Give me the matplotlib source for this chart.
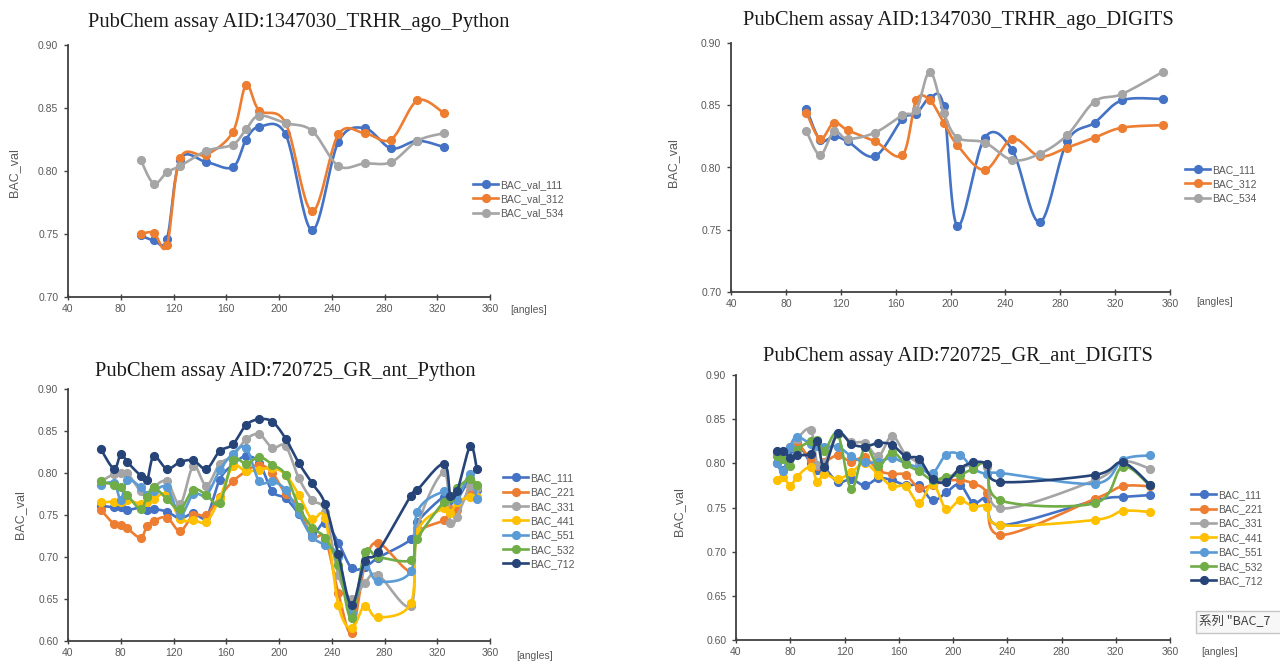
import numpy as np
import matplotlib
matplotlib.use("Agg")
import matplotlib.pyplot as plt
from matplotlib.lines import Line2D
from matplotlib.patches import Rectangle

plt.rcParams['font.family'] = ['Liberation Sans', 'Noto Sans CJK JP', 'DejaVu Sans']

# ---- data ----
# AID:1347030_TRHR_ago_Python
trhr_py_angles = [95, 105, 115, 125, 145, 165, 175, 185, 205, 225, 245, 265, 285, 305, 325]
trhr_py_111 = [0.749, 0.745, 0.746, 0.809, 0.807, 0.803, 0.825, 0.835, 0.829, 0.753, 0.823, 0.834, 0.818, 0.824, 0.819]
trhr_py_312 = [0.750, 0.751, 0.741, 0.810, 0.813, 0.831, 0.868, 0.848, 0.838, 0.768, 0.829, 0.830, 0.825, 0.856, 0.846]
trhr_py_534 = [0.809, 0.790, 0.799, 0.804, 0.816, 0.821, 0.833, 0.844, 0.838, 0.832, 0.804, 0.806, 0.807, 0.824, 0.830]
trhr_py_labels = ['BAC_val_111', 'BAC_val_312', 'BAC_val_534']

# AID:1347030_TRHR_ago_DIGITS
trhr_dg_angles = [95, 105, 115, 125, 145, 165, 175, 185, 195, 205, 225, 245, 265, 285, 305, 325, 355]
trhr_dg_111 = [0.847, 0.822, 0.825, 0.821, 0.809, 0.839, 0.843, 0.856, 0.849, 0.753, 0.824, 0.814, 0.756, 0.821, 0.836, 0.854, 0.855]
trhr_dg_312 = [0.844, 0.823, 0.836, 0.830, 0.821, 0.810, 0.854, 0.854, 0.836, 0.818, 0.798, 0.823, 0.809, 0.816, 0.824, 0.832, 0.834]
trhr_dg_534 = [0.829, 0.810, 0.829, 0.823, 0.828, 0.842, 0.846, 0.877, 0.844, 0.824, 0.820, 0.806, 0.811, 0.826, 0.853, 0.859, 0.877]
trhr_dg_labels = ['BAC_111', 'BAC_312', 'BAC_534']

# AID:720725_GR_ant_Python
gr_py_angles = [65, 75, 80, 85, 95, 100, 105, 115, 125, 135, 145, 155, 165, 175, 185, 195,
                205, 215, 225, 235, 245, 255, 265, 275, 300, 305, 325, 330, 335, 345, 350]
gr_py_111 = [0.761, 0.759, 0.760, 0.756, 0.759, 0.756, 0.757, 0.754, 0.746, 0.752, 0.748, 0.792, 0.810, 0.820, 0.812, 0.778,
             0.770, 0.751, 0.727, 0.741, 0.717, 0.687, 0.688, 0.699, 0.721, 0.742, 0.772, 0.768, 0.768, 0.793, 0.780]
gr_py_221 = [0.756, 0.739, 0.738, 0.734, 0.723, 0.737, 0.743, 0.747, 0.731, 0.750, 0.750, 0.772, 0.790, 0.802, 0.810, 0.800,
             0.775, 0.760, 0.724, 0.722, 0.657, 0.610, 0.690, 0.717, 0.683, 0.728, 0.744, 0.757, 0.756, 0.779, 0.783]
gr_py_331 = [0.790, 0.799, 0.800, 0.800, 0.778, 0.774, 0.783, 0.790, 0.763, 0.808, 0.785, 0.811, 0.820, 0.840, 0.846, 0.830,
             0.832, 0.794, 0.768, 0.754, 0.679, 0.650, 0.669, 0.679, 0.642, 0.735, 0.801, 0.740, 0.748, 0.785, 0.782]
gr_py_441 = [0.765, 0.766, 0.765, 0.768, 0.763, 0.765, 0.769, 0.775, 0.745, 0.744, 0.742, 0.770, 0.808, 0.802, 0.804, 0.806,
             0.798, 0.774, 0.745, 0.746, 0.643, 0.615, 0.642, 0.628, 0.645, 0.730, 0.758, 0.752, 0.765, 0.772, 0.772]
gr_py_551 = [0.786, 0.788, 0.768, 0.792, 0.783, 0.774, 0.778, 0.783, 0.750, 0.775, 0.774, 0.803, 0.823, 0.830, 0.790, 0.790,
             0.780, 0.752, 0.724, 0.714, 0.700, 0.633, 0.690, 0.671, 0.683, 0.754, 0.778, 0.770, 0.768, 0.799, 0.769]
gr_py_532 = [0.790, 0.786, 0.783, 0.774, 0.757, 0.772, 0.783, 0.769, 0.757, 0.780, 0.774, 0.764, 0.815, 0.811, 0.819, 0.810,
             0.798, 0.760, 0.735, 0.723, 0.690, 0.627, 0.706, 0.700, 0.696, 0.722, 0.766, 0.770, 0.782, 0.793, 0.786]
gr_py_712 = [0.828, 0.805, 0.823, 0.813, 0.797, 0.792, 0.820, 0.805, 0.813, 0.815, 0.805, 0.826, 0.834, 0.857, 0.864, 0.861,
             0.841, 0.812, 0.788, 0.763, 0.703, 0.643, 0.695, 0.706, 0.773, 0.780, 0.811, 0.773, 0.778, 0.832, 0.805]

# AID:720725_GR_ant_DIGITS
gr_dg_angles = [70, 75, 80, 85, 95, 100, 105, 115, 125, 135, 145, 155, 165, 175, 185, 195, 205, 215, 225, 235, 305, 325, 345]
gr_dg_111 = [0.800, 0.792, 0.816, 0.824, 0.800, 0.792, 0.795, 0.779, 0.782, 0.775, 0.783, 0.781, 0.775, 0.775, 0.758, 0.767,
             0.776, 0.755, 0.760, 0.730, 0.758, 0.762, 0.764]
gr_dg_221 = [0.812, 0.810, 0.818, 0.823, 0.804, 0.797, 0.801, 0.809, 0.802, 0.807, 0.792, 0.788, 0.787, 0.772, 0.776, 0.780,
             0.781, 0.777, 0.766, 0.719, 0.760, 0.774, 0.774]
gr_dg_331 = [0.812, 0.806, 0.818, 0.828, 0.838, 0.798, 0.800, 0.833, 0.824, 0.823, 0.808, 0.831, 0.810, 0.800, 0.785, 0.781,
             0.794, 0.798, 0.796, 0.749, 0.781, 0.802, 0.794]
gr_dg_441 = [0.781, 0.785, 0.774, 0.785, 0.796, 0.779, 0.788, 0.782, 0.790, 0.800, 0.787, 0.774, 0.774, 0.755, 0.777, 0.748,
             0.758, 0.751, 0.751, 0.730, 0.736, 0.746, 0.745]
gr_dg_551 = [0.800, 0.791, 0.819, 0.830, 0.822, 0.820, 0.818, 0.819, 0.808, 0.801, 0.802, 0.806, 0.800, 0.795, 0.789, 0.810,
             0.810, 0.794, 0.788, 0.789, 0.777, 0.804, 0.809]
gr_dg_532 = [0.808, 0.805, 0.797, 0.815, 0.825, 0.826, 0.814, 0.833, 0.771, 0.818, 0.797, 0.813, 0.799, 0.791, 0.781, 0.785,
             0.787, 0.794, 0.799, 0.758, 0.755, 0.796, 0.775]
gr_dg_712 = [0.814, 0.814, 0.806, 0.809, 0.811, 0.825, 0.796, 0.834, 0.822, 0.819, 0.823, 0.821, 0.808, 0.805, 0.782, 0.779,
             0.794, 0.801, 0.799, 0.779, 0.787, 0.801, 0.776]
gr_labels = ['BAC_111', 'BAC_221', 'BAC_331', 'BAC_441', 'BAC_551', 'BAC_532', 'BAC_712']

colors3 = ['#4472C4', '#ED7D31', '#A5A5A5']
colors7 = ['#4472C4', '#ED7D31', '#A5A5A5', '#FFC000', '#5B9BD5', '#70AD47', '#264478']

W, H = 1280, 661
GRAY = '#595959'


def fx(x):
    return x / W


def fy(y):
    return 1 - y / H


def smooth(x, y, n=24):
    # Excel style smoothed line: cubic bezier through the points (catmull-rom tangents)
    x = np.asarray(x, float)
    y = np.asarray(y, float)
    px = np.concatenate([[x[0]], x, [x[-1]]])
    py = np.concatenate([[y[0]], y, [y[-1]]])
    t = np.linspace(0, 1, n)[:, None]
    xs, ys = [], []
    for i in range(len(x) - 1):
        p0 = np.array([px[i], py[i]])
        p1 = np.array([px[i + 1], py[i + 1]])
        p2 = np.array([px[i + 2], py[i + 2]])
        p3 = np.array([px[i + 3], py[i + 3]])
        c1 = p1 + (p2 - p0) / 6
        c2 = p2 - (p3 - p1) / 6
        b = (1 - t) ** 3 * p1 + 3 * (1 - t) ** 2 * t * c1 + 3 * (1 - t) * t ** 2 * c2 + t ** 3 * p2
        xs.append(b[:, 0])
        ys.append(b[:, 1])
    return np.concatenate(xs), np.concatenate(ys)


def panel(box, angles, series, labels, colors, ylim, yticks, title, title_xy, ylab_xy, ang_xy, leg_xy):
    left, top, right, bottom = box
    ax = fig.add_axes([fx(left), fy(bottom), (right - left) / W, (bottom - top) / H])
    for i, (vals, lab, c) in enumerate(zip(series, labels, colors)):
        sx, sy = smooth(angles, vals)
        ax.plot(sx, sy, color=c, lw=1.9, zorder=3 + i, solid_capstyle='round')
        ax.plot(angles, vals, 'o', color=c, ms=5.6, zorder=3 + i, label=lab)
    ax.set_xlim(40, 360)
    ax.set_ylim(*ylim)
    ax.set_xticks(range(40, 361, 40))
    ax.set_yticks(yticks)
    ax.set_yticklabels([f'{v:.2f}' for v in yticks])
    for s in ['top', 'right']:
        ax.spines[s].set_visible(False)
    for s in ['left', 'bottom']:
        ax.spines[s].set_color('#404040')
        ax.spines[s].set_linewidth(1.3)
    ax.tick_params(axis='x', direction='inout', length=4, width=1, color='#404040',
                   labelsize=7.5, labelcolor=GRAY, pad=3)
    ax.tick_params(axis='y', direction='out', length=3, width=1, color='#404040',
                   labelsize=7.5, labelcolor=GRAY, pad=4)
    fig.text(fx(title_xy[0]), fy(title_xy[1]), title, family='Liberation Serif', fontsize=14.8,
             color='#1a1a1a', ha='center', va='center')
    fig.text(fx(ylab_xy[0]), fy(ylab_xy[1]), 'BAC_val', fontsize=9, color=GRAY,
             rotation=90, ha='center', va='center')
    fig.text(fx(ang_xy[0]), fy(ang_xy[1]), '[angles]', fontsize=7.5, color=GRAY,
             ha='center', va='center')
    handles = [Line2D([], [], color=c, lw=1.9, marker='o', ms=5.6) for c in colors]
    fig.legend(handles, labels, loc='center left', bbox_to_anchor=(fx(leg_xy[0]), fy(leg_xy[1])),
               frameon=False, fontsize=7.5, labelcolor=GRAY, handlelength=2.4, handletextpad=0.2,
               labelspacing=0.42, borderpad=0, borderaxespad=0, markerscale=1.0)
    return ax


fig = plt.figure(figsize=(W / 100, H / 100), dpi=100)
fig.patch.set_facecolor('white')

panel((68, 45, 490, 297), trhr_py_angles, [trhr_py_111, trhr_py_312, trhr_py_534],
      trhr_py_labels, colors3, (0.70, 0.90), [0.70, 0.75, 0.80, 0.85, 0.90],
      'PubChem assay AID:1347030_TRHR_ago_Python', (299, 23), (14, 173), (529, 310), (473, 199))

panel((731, 43, 1170, 292), trhr_dg_angles, [trhr_dg_111, trhr_dg_312, trhr_dg_534],
      trhr_dg_labels, colors3, (0.70, 0.90), [0.70, 0.75, 0.80, 0.85, 0.90],
      'PubChem assay AID:1347030_TRHR_ago_DIGITS', (958, 20), (673, 163), (1215, 302), (1185, 184))

panel((68, 389, 490, 641), gr_py_angles,
      [gr_py_111, gr_py_221, gr_py_331, gr_py_441, gr_py_551, gr_py_532, gr_py_712],
      gr_labels, colors7, (0.60, 0.90), [0.60, 0.65, 0.70, 0.75, 0.80, 0.85, 0.90],
      'PubChem assay AID:720725_GR_ant_Python', (285, 372), (20, 515), (535, 656), (503, 521))

panel((736, 375, 1170, 640), gr_dg_angles,
      [gr_dg_111, gr_dg_221, gr_dg_331, gr_dg_441, gr_dg_551, gr_dg_532, gr_dg_712],
      gr_labels, colors7, (0.60, 0.90), [0.60, 0.65, 0.70, 0.75, 0.80, 0.85, 0.90],
      'PubChem assay AID:720725_GR_ant_DIGITS', (958, 357), (679, 512), (1220, 652), (1191, 538))

# Excel tooltip left on the screenshot, cut by the right edge as in the source
fig.patches.append(Rectangle((fx(1196), fy(633)), 100 / W, 22 / H, transform=fig.transFigure,
                             facecolor='#f7f7f7', edgecolor='#c6c6c6', lw=1))
fig.text(fx(1199), fy(622), '系列 "BAC_7', family=['Noto Sans CJK JP', 'DejaVu Sans'],
         fontsize=9, color='#404040', ha='left', va='center')

fig.savefig('out.png', dpi=100, facecolor='white')
